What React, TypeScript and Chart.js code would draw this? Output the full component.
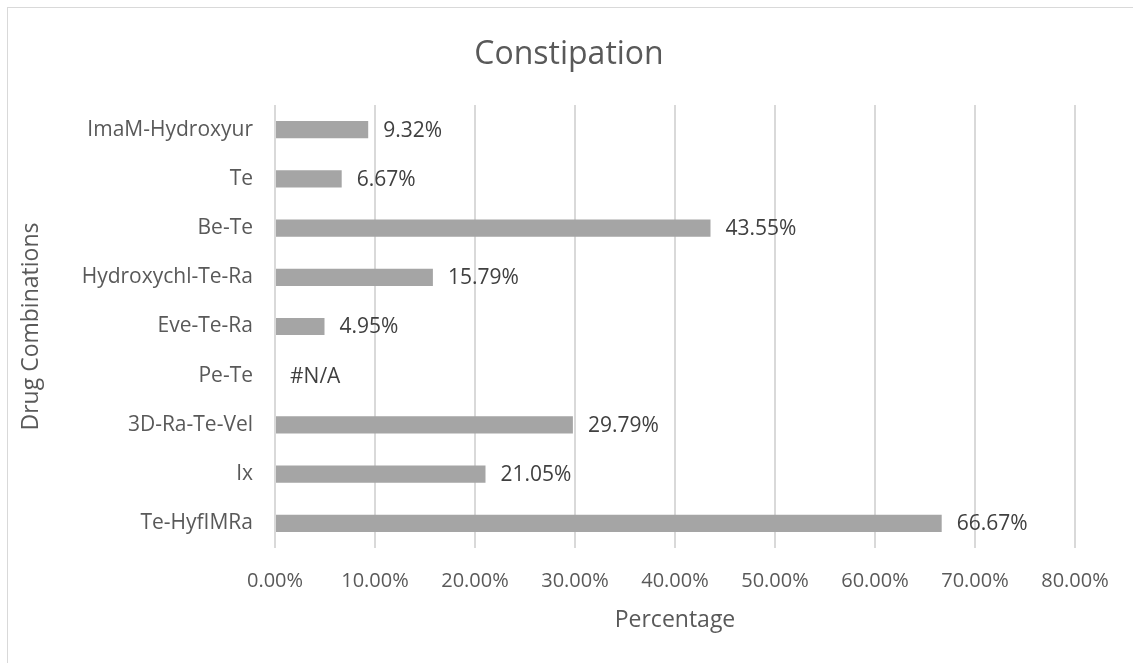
import React, { useEffect, useRef } from "react";
import { Chart, registerables } from "chart.js";

Chart.register(...registerables);

const categories = [
  "ImaM-Hydroxyur",
  "Te",
  "Be-Te",
  "Hydroxychl-Te-Ra",
  "Eve-Te-Ra",
  "Pe-Te",
  "3D-Ra-Te-Vel",
  "Ix",
  "Te-HyfIMRa",
];
const values: (number | null)[] = [9.32, 6.67, 43.55, 15.79, 4.95, null, 29.79, 21.05, 66.67];
const xTicks = [0, 10, 20, 30, 40, 50, 60, 70, 80];
const chartTitle = "Constipation";

const FONT = "'Open Sans', sans-serif";

const labelPlugin = {
  id: "barLabels",
  afterDatasetsDraw(chart: any) {
    const { ctx } = chart;
    const meta = chart.getDatasetMeta(0);
    const xScale = chart.scales.x;
    ctx.save();
    ctx.font = `21px ${FONT}`;
    ctx.fillStyle = "#404040";
    ctx.textAlign = "left";
    ctx.textBaseline = "middle";
    meta.data.forEach((bar: any, i: number) => {
      const v = values[i];
      const text = v === null ? "#N/A" : v.toFixed(2) + "%";
      const x = v === null ? xScale.getPixelForValue(0) : bar.x;
      const y = chart.scales.y.getPixelForValue(i);
      ctx.fillText(text, x + 15, y + 1);
    });
    ctx.restore();
  },
};

const titlePlugin = {
  id: "customTitle",
  afterDraw(chart: any) {
    const { ctx } = chart;
    ctx.save();
    ctx.font = `32px ${FONT}`;
    ctx.fillStyle = "#595959";
    ctx.textAlign = "center";
    ctx.textBaseline = "alphabetic";
    ctx.fillText(chartTitle, 569, 64);
    ctx.restore();
  },
};

export default function App() {
  const ref = useRef<HTMLCanvasElement | null>(null);
  useEffect(() => {
    if (!ref.current) return;
    const chart = new Chart(ref.current, {
      type: "bar",
      data: {
        labels: categories,
        datasets: [
          {
            data: values as any,
            backgroundColor: "#A5A5A5",
            borderWidth: 0,
            categoryPercentage: 1,
            barPercentage: 0.35,
          },
        ],
      },
      options: {
        indexAxis: "y",
        animation: false,
        responsive: false,
        maintainAspectRatio: false,
        layout: { padding: { left: 0, right: 58, top: 105, bottom: 0 } },
        plugins: {
          legend: { display: false },
          tooltip: { enabled: false },
          title: { display: false },
        },
        scales: {
          x: {
            min: 0,
            max: 80,
            afterBuildTicks(scale: any) {
              scale.ticks = xTicks.map((v) => ({ value: v }));
            },
            afterFit(scale: any) {
              scale.height = 115;
            },
            ticks: {
              color: "#595959",
              font: { family: FONT, size: 20 },
              padding: 21,
              callback: (v: any) => Number(v).toFixed(2) + "%",
            },
            grid: { color: "#D9D9D9", lineWidth: 2, drawTicks: false },
            border: { display: false },
            title: {
              display: true,
              text: "Percentage",
              color: "#595959",
              font: { family: FONT, size: 23 },
              padding: { top: 4, bottom: 29 },
            },
          },
          y: {
            afterFit(scale: any) {
              scale.width = 275;
            },
            ticks: {
              color: "#595959",
              font: { family: FONT, size: 21 },
              padding: 22,
            },
            grid: { display: false, drawTicks: false },
            border: { display: false },
            title: {
              display: true,
              text: "Drug Combinations",
              color: "#595959",
              font: { family: FONT, size: 23 },
              padding: { top: 18, bottom: 0 },
            },
          },
        },
      },
      plugins: [labelPlugin, titlePlugin],
    });
    return () => chart.destroy();
  }, []);
  return (
    <div style={{ position: "fixed", left: 0, top: 0, width: 1133, height: 663, background: "#fff", overflow: "hidden" }}>
      <div
        style={{
          position: "absolute",
          left: 7,
          top: 7,
          width: 1200,
          height: 700,
          borderLeft: "1px solid #D9D9D9",
          borderTop: "1px solid #D9D9D9",
        }}
      />
      <canvas ref={ref} width={1133} height={663} style={{ position: "absolute", left: 0, top: 0 }} />
    </div>
  );
}
